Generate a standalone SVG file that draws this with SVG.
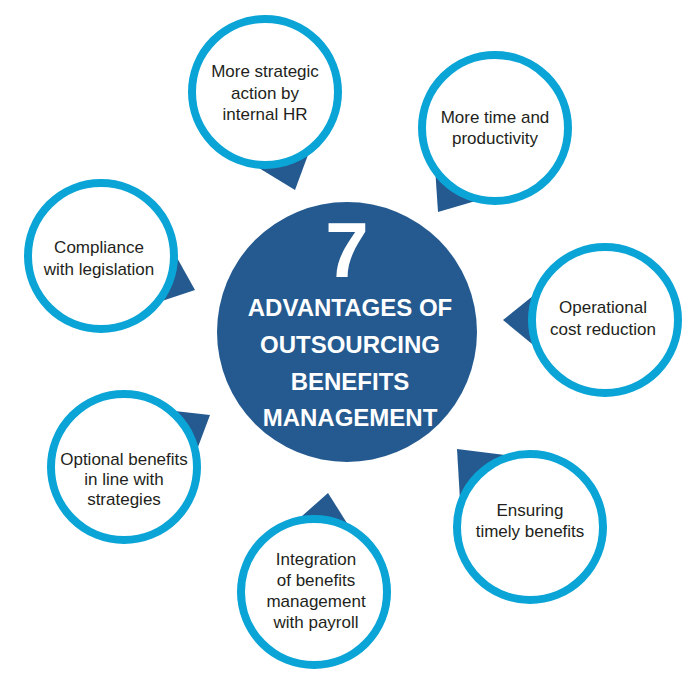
<svg xmlns="http://www.w3.org/2000/svg" width="700" height="690" viewBox="0 0 700 690">
  <style>
    .ring { fill: #ffffff; stroke: #0aa5d6; stroke-width: 8; }
    .ptr { fill: #245a8f; }
    .hub { fill: #245a8f; }
    .lbl { font-family: "Liberation Sans", Arial, sans-serif; font-size: 17px; fill: #231f20; text-anchor: middle; }
    .hubtxt { font-family: "Liberation Sans", Arial, sans-serif; font-weight: bold; fill: #ffffff; text-anchor: middle; }
  </style>
  <rect width="700" height="690" fill="#ffffff"/>

  <g id="connectors">
    <polygon class="ptr" points="295,190 249,162 310,149.4"/>
    <polygon class="ptr" points="438,212 435.2,169.9 480.7,199.6"/>
    <polygon class="ptr" points="195,290 173.9,252.2 157.4,302.4"/>
    <polygon class="ptr" points="503,320 537.5,292.3 537.9,348.8"/>
    <polygon class="ptr" points="457,449 505,455 460,500"/>
    <polygon class="ptr" points="328,493 296.1,521.3 350.7,528.9"/>
    <polygon class="ptr" points="210,415 170.1,410.4 195.7,453.2"/>
  </g>

  <g id="hub">
    <circle class="hub" cx="347" cy="332" r="130"/>
    <text class="hubtxt" x="347" y="277" font-size="78">7</text>
    <text class="hubtxt" x="350" y="316" font-size="24">ADVANTAGES OF</text>
    <text class="hubtxt" x="350" y="353" font-size="24">OUTSOURCING</text>
    <text class="hubtxt" x="350" y="389.5" font-size="24">BENEFITS</text>
    <text class="hubtxt" x="350" y="426" font-size="24">MANAGEMENT</text>
  </g>

  <g id="node-strategic">
    <circle class="ring" cx="265" cy="92" r="73"/>
    <text class="lbl" x="265" y="77">More strategic</text>
    <text class="lbl" x="265" y="98.5">action by</text>
    <text class="lbl" x="265" y="120">internal HR</text>
  </g>

  <g id="node-time">
    <circle class="ring" cx="495" cy="128" r="73"/>
    <text class="lbl" x="495" y="122.5">More time and</text>
    <text class="lbl" x="495" y="144">productivity</text>
  </g>

  <g id="node-compliance">
    <circle class="ring" cx="101" cy="256" r="73"/>
    <text class="lbl" x="99" y="253">Compliance</text>
    <text class="lbl" x="99" y="275">with legislation</text>
  </g>

  <g id="node-cost">
    <circle class="ring" cx="605" cy="320" r="73"/>
    <text class="lbl" x="603" y="313">Operational</text>
    <text class="lbl" x="603" y="335">cost reduction</text>
  </g>

  <g id="node-timely">
    <circle class="ring" cx="530" cy="527" r="73"/>
    <text class="lbl" x="530" y="516">Ensuring</text>
    <text class="lbl" x="530" y="537">timely benefits</text>
  </g>

  <g id="node-integration">
    <circle class="ring" cx="314" cy="592" r="73"/>
    <text class="lbl" x="316" y="565">Integration</text>
    <text class="lbl" x="316" y="586">of benefits</text>
    <text class="lbl" x="316" y="607">management</text>
    <text class="lbl" x="316" y="628">with payroll</text>
  </g>

  <g id="node-optional">
    <circle class="ring" cx="124" cy="467" r="73"/>
    <text class="lbl" x="124" y="465">Optional benefits</text>
    <text class="lbl" x="124" y="485">in line with</text>
    <text class="lbl" x="124" y="505">strategies</text>
  </g>
</svg>
